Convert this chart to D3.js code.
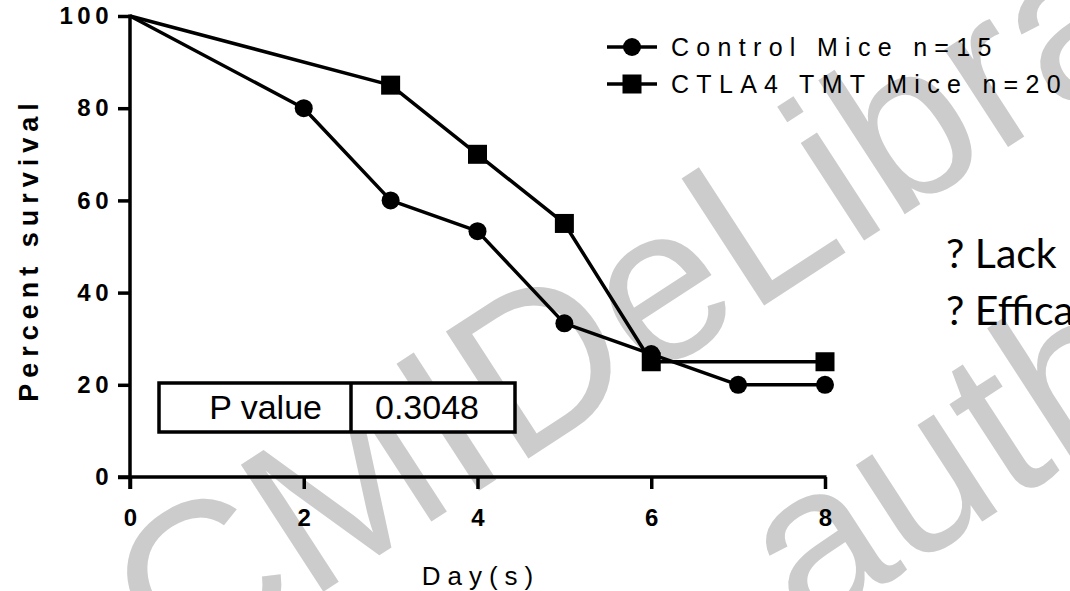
<!DOCTYPE html>
<html>
<head>
<meta charset="utf-8">
<script src="https://cdn.jsdelivr.net/npm/d3@7"></script>
<style>
  html, body { margin: 0; padding: 0; background: #fff; }
  svg { display: block; }
</style>
</head>
<body>
<svg id="chart" width="1070" height="591"></svg>
<script>
// Survival data (percent alive by day)
const controlDays = [0, 2, 3, 4, 5, 6, 7, 8];
const controlSurvival = [100, 80, 60, 53.33, 33.33, 26.67, 20, 20];
const ctlaDays = [0, 3, 4, 5, 6, 8];
const ctlaSurvival = [100, 85, 70, 55, 25, 25];

const xTicks = [0, 2, 4, 6, 8];
const yTicks = [0, 20, 40, 60, 80, 100];
const seriesNames = ["Control Mice n=15", "CTLA4 TMT Mice n=20"];
const pLabel = "P value";
const pValue = "0.3048";
const notes = ["? Lack", "? Effica"];
const watermarkLines = ["CMIDeLibrary", "author"];

const svg = d3.select("#chart");

const x = d3.scaleLinear().domain([0, 8]).range([130, 825]);
const y = d3.scaleLinear().domain([0, 100]).range([477, 16]);

// Watermark behind everything
const wm = svg.append("g")
  .attr("transform", "translate(175,688) rotate(-33)")
  .attr("fill", "#cccccc")
  .attr("font-family", "Liberation Sans, Arial, sans-serif")
  .attr("font-size", 220);
wm.append("text").attr("x", 0).attr("y", 0).text(watermarkLines[0]);
wm.append("text").attr("x", 556).attr("y", 300).text(watermarkLines[1]);

const axisFont = "Liberation Sans, Arial, Helvetica, sans-serif";
const tickLen = 12;
const sw = 3.5;

// Y axis
const yAxis = svg.append("g")
  .attr("transform", `translate(${x(0)},0)`)
  .call(d3.axisLeft(y).tickValues(yTicks).tickSize(tickLen).tickSizeOuter(0).tickPadding(10));
yAxis.select(".domain").remove();
yAxis.selectAll(".tick line").attr("stroke", "#000").attr("stroke-width", sw);
yAxis.selectAll(".tick text")
  .attr("fill", "#000")
  .attr("font-family", axisFont)
  .attr("font-weight", "bold")
  .attr("font-size", 24)
  .attr("letter-spacing", 4.5)
  .attr("dx", 5);
yAxis.append("line")
  .attr("x1", 0).attr("x2", 0)
  .attr("y1", y(100) - 1.5).attr("y2", y(0) + tickLen)
  .attr("stroke", "#000").attr("stroke-width", sw);

// X axis
const xAxis = svg.append("g")
  .attr("transform", `translate(0,${y(0)})`)
  .call(d3.axisBottom(x).tickValues(xTicks).tickSize(tickLen).tickSizeOuter(0).tickPadding(20));
xAxis.select(".domain").remove();
xAxis.selectAll(".tick line").attr("stroke", "#000").attr("stroke-width", sw);
xAxis.selectAll(".tick text")
  .attr("fill", "#000")
  .attr("font-family", axisFont)
  .attr("font-weight", "bold")
  .attr("font-size", 24);
xAxis.append("line")
  .attr("x1", x(0) - tickLen).attr("x2", x(8) + 1.5)
  .attr("y1", 0).attr("y2", 0)
  .attr("stroke", "#000").attr("stroke-width", sw);

// Axis titles
svg.append("text")
  .attr("transform", `translate(38,${(y(100) + y(0)) / 2 + 3}) rotate(-90)`)
  .attr("text-anchor", "middle")
  .attr("font-family", axisFont)
  .attr("font-weight", "bold")
  .attr("font-size", 27)
  .attr("letter-spacing", 6)
  .attr("fill", "#000")
  .text("Percent survival");

svg.append("text")
  .attr("x", x(4) + 3.5)
  .attr("y", 585)
  .attr("text-anchor", "middle")
  .attr("font-family", axisFont)
  .attr("font-size", 26)
  .attr("letter-spacing", 7)
  .attr("fill", "#000")
  .text("Day(s)");

// Series
const control = controlDays.map((d, i) => ({ day: d, s: controlSurvival[i] }));
const ctla = ctlaDays.map((d, i) => ({ day: d, s: ctlaSurvival[i] }));
const line = d3.line().x(d => x(d.day)).y(d => y(d.s));

svg.append("path").datum(ctla).attr("d", line)
  .attr("fill", "none").attr("stroke", "#000").attr("stroke-width", sw).attr("stroke-linejoin", "round");
svg.append("path").datum(control).attr("d", line)
  .attr("fill", "none").attr("stroke", "#000").attr("stroke-width", sw).attr("stroke-linejoin", "round");

const sq = 19;
svg.selectAll(".sq").data(ctla.filter(d => d.day > 0)).enter().append("rect")
  .attr("x", d => x(d.day) - sq / 2).attr("y", d => y(d.s) - sq / 2)
  .attr("width", sq).attr("height", sq).attr("fill", "#000");
svg.selectAll(".dot").data(control.filter(d => d.day > 0)).enter().append("circle")
  .attr("cx", d => x(d.day)).attr("cy", d => y(d.s)).attr("r", 9).attr("fill", "#000");

// Legend
const legendRows = [47, 84];
const lg = svg.append("g");
legendRows.forEach((ly, i) => {
  lg.append("line").attr("x1", 607).attr("x2", 657).attr("y1", ly).attr("y2", ly)
    .attr("stroke", "#000").attr("stroke-width", sw);
  if (i === 0) {
    lg.append("circle").attr("cx", 632).attr("cy", ly).attr("r", 9).attr("fill", "#000");
  } else {
    lg.append("rect").attr("x", 632 - sq / 2).attr("y", ly - sq / 2).attr("width", sq).attr("height", sq).attr("fill", "#000");
  }
  lg.append("text").attr("x", 671).attr("y", ly + 9)
    .attr("font-family", axisFont).attr("font-size", 25).attr("letter-spacing", 7.3)
    .attr("fill", "#000").text(seriesNames[i]);
});

// P value table
const box = { x0: 159, x1: 515, mid: 351, y0: 383, y1: 432 };
svg.append("rect")
  .attr("x", box.x0).attr("y", box.y0)
  .attr("width", box.x1 - box.x0).attr("height", box.y1 - box.y0)
  .attr("fill", "#fff").attr("stroke", "#000").attr("stroke-width", sw);
svg.append("line").attr("x1", box.mid).attr("x2", box.mid).attr("y1", box.y0).attr("y2", box.y1)
  .attr("stroke", "#000").attr("stroke-width", sw);
svg.append("text").attr("x", 322).attr("y", 419).attr("text-anchor", "end")
  .attr("font-family", axisFont).attr("font-size", 34).attr("fill", "#000").text(pLabel);
svg.append("text").attr("x", 375).attr("y", 419)
  .attr("font-family", axisFont).attr("font-size", 34).attr("fill", "#000").text(pValue);

// Side notes
notes.forEach((t, i) => {
  svg.append("text").attr("x", 946).attr("y", 268 + i * 57)
    .attr("font-family", "Lato, 'Open Sans', sans-serif").attr("font-size", 41)
    .attr("fill", "#000").text(t);
});
</script>
</body>
</html>
